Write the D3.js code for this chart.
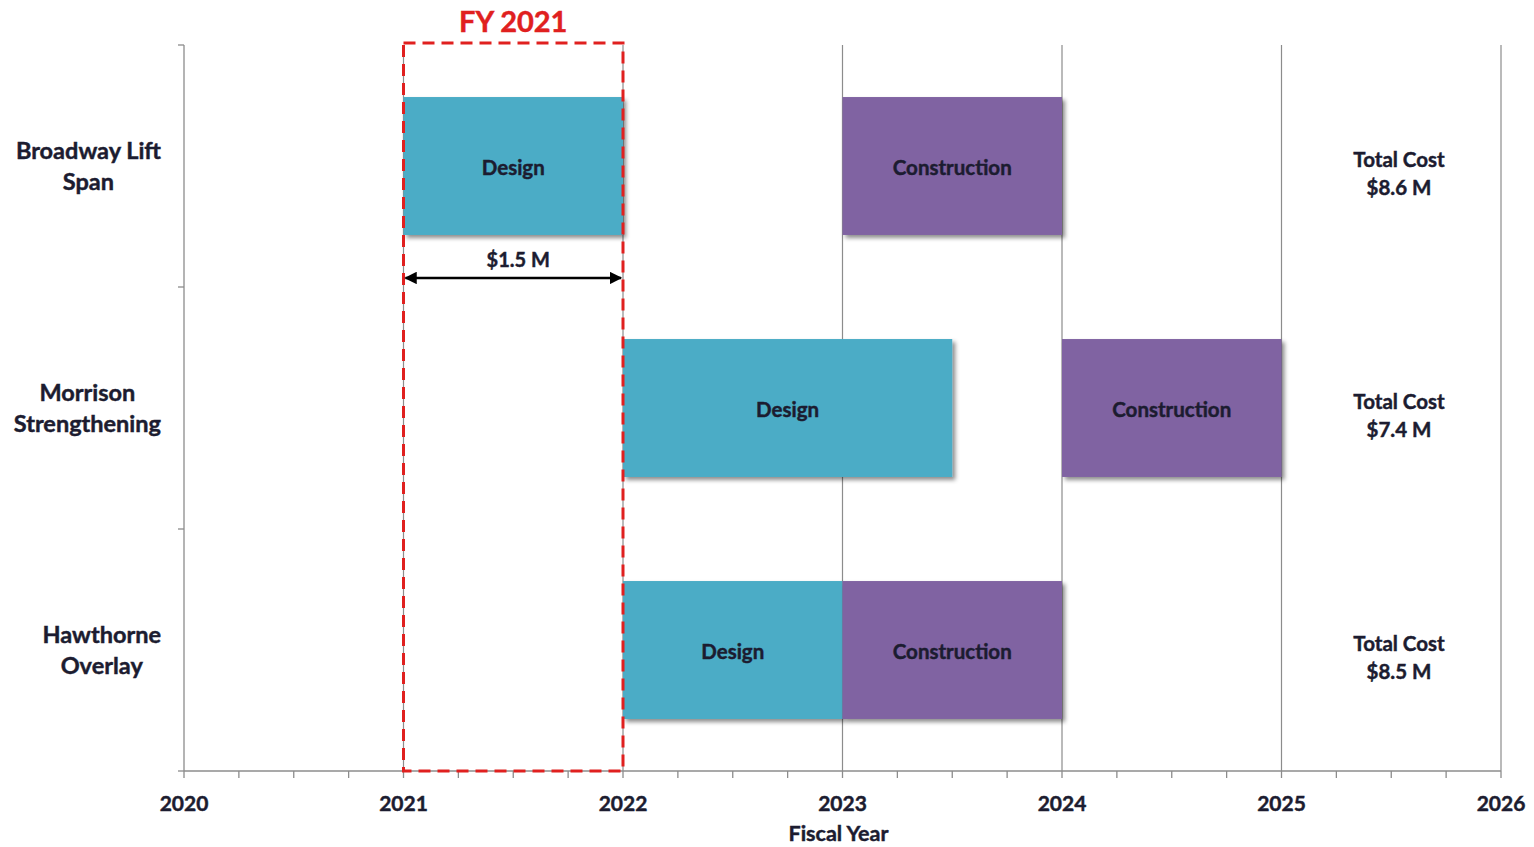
<!DOCTYPE html>
<html>
<head>
<meta charset="utf-8">
<script src="https://cdn.jsdelivr.net/npm/d3@7"></script>
<style>
  html, body { margin: 0; padding: 0; background: #fff; }
  svg { display: block; font-family: Lato, "Open Sans", sans-serif; }
  text { font-weight: 700; stroke-width: 0.45px; }
</style>
</head>
<body>
<svg id="chart" width="1534" height="847"></svg>
<script>
// Project schedule data (fiscal years)
const projects = ["Broadway Lift Span", "Morrison Strengthening", "Hawthorne Overlay"];
const projectLines = [["Broadway Lift", "Span"], ["Morrison", "Strengthening"], ["Hawthorne", "Overlay"]];
const designStart = [2021, 2022, 2022];
const designEnd = [2022, 2023.5, 2023];
const constructionStart = [2023, 2024, 2023];
const constructionEnd = [2024, 2025, 2024];
const totalCost = ["$8.6 M", "$7.4 M", "$8.5 M"];
const yearTicks = [2020, 2021, 2022, 2023, 2024, 2025, 2026];
const highlightYear = [2021, 2022];
const highlightLabel = "FY 2021";
const highlightCost = "$1.5 M";

const svg = d3.select("#chart");
const plotLeft = 184, plotRight = 1501, plotTop = 45, plotBottom = 771;

const x = d3.scaleLinear().domain([2020, 2026]).range([plotLeft, plotRight]);
const y = d3.scaleBand().domain(projects).range([plotTop, plotBottom]).padding(0);
const barH = y.bandwidth() * 0.57;

const textColor = "#1c1c30";
const designColor = "#4bacc6";
const constructionColor = "#8064a2";
const axisColor = "#8c8c8c";
const red = "#e0201f";

// bold text helper: fill and a thin matching stroke
function label(sel, color) {
  return sel.attr("fill", color || textColor).attr("stroke", color || textColor);
}

// drop shadow for bars
const defs = svg.append("defs");
const f = defs.append("filter").attr("id", "shadow")
  .attr("x", "-10%").attr("y", "-10%").attr("width", "130%").attr("height", "130%");
f.append("feDropShadow").attr("dx", 3).attr("dy", 3).attr("stdDeviation", 2.2)
  .attr("flood-color", "#000").attr("flood-opacity", 0.45);

defs.append("marker").attr("id", "arrowhead")
  .attr("viewBox", "0 0 10 10").attr("refX", 9).attr("refY", 5)
  .attr("markerWidth", 5).attr("markerHeight", 5).attr("orient", "auto-start-reverse")
  .append("path").attr("d", "M0,0 L10,5 L0,10 Z").attr("fill", "#000");

// vertical gridlines at each year
svg.append("g").selectAll("line")
  .data(yearTicks.slice(1))
  .join("line")
  .attr("x1", d => x(d)).attr("x2", d => x(d))
  .attr("y1", plotTop).attr("y2", plotBottom)
  .attr("stroke", axisColor).attr("stroke-width", 1.2);

// x axis with quarterly minor ticks
const minor = d3.range(2020, 2026.001, 0.25);
const xAxis = svg.append("g").attr("transform", `translate(0,${plotBottom})`);
xAxis.append("line").attr("x1", plotLeft).attr("x2", plotRight).attr("y1", 0).attr("y2", 0)
  .attr("stroke", axisColor).attr("stroke-width", 1.3);
xAxis.selectAll("line.tick").data(minor).join("line").attr("class", "tick")
  .attr("x1", d => x(d)).attr("x2", d => x(d)).attr("y1", 0).attr("y2", 7)
  .attr("stroke", axisColor).attr("stroke-width", 1.3);
label(xAxis.selectAll("text").data(yearTicks).join("text")
  .attr("x", d => x(d)).attr("y", 40)
  .attr("text-anchor", "middle").attr("font-size", 21)
  .text(d => d));

label(svg.append("text").attr("x", x(2023) - 4).attr("y", 841)
  .attr("text-anchor", "middle").attr("font-size", 21.5)
  .text("Fiscal Year"));

// y axis line and band boundary ticks
svg.append("line").attr("x1", plotLeft).attr("x2", plotLeft).attr("y1", plotTop).attr("y2", plotBottom)
  .attr("stroke", axisColor).attr("stroke-width", 1.3);
const bounds = projects.map(p => y(p)).concat([plotBottom]);
svg.append("g").selectAll("line").data(bounds).join("line")
  .attr("x1", plotLeft - 6).attr("x2", plotLeft).attr("y1", d => d).attr("y2", d => d)
  .attr("stroke", axisColor).attr("stroke-width", 1.3);

// project labels (each block right-aligned, lines centered within it)
const labelRight = 161;
projects.forEach((p, i) => {
  const g = svg.append("g");
  const lines = projectLines[i];
  const cy = y(p) + y.bandwidth() / 2;
  const texts = lines.map((t, j) => label(g.append("text")
    .attr("y", cy + (j - (lines.length - 1) / 2) * 31 + 8)
    .attr("text-anchor", "middle").attr("font-size", 23.5)
    .text(t)));
  const w = d3.max(texts, t => t.node().getComputedTextLength());
  texts.forEach(t => t.attr("x", labelRight - w / 2));
});

// Gantt bars
const segments = [];
projects.forEach((p, i) => {
  segments.push({ p, s: designStart[i], e: designEnd[i], kind: "Design", color: designColor });
  segments.push({ p, s: constructionStart[i], e: constructionEnd[i], kind: "Construction", color: constructionColor });
});

const bars = svg.append("g");
bars.selectAll("rect").data(segments).join("rect")
  .attr("x", d => x(d.s)).attr("width", d => x(d.e) - x(d.s))
  .attr("y", d => y(d.p) + (y.bandwidth() - barH) / 2).attr("height", barH)
  .attr("fill", d => d.color).attr("filter", "url(#shadow)");
label(bars.selectAll("text").data(segments).join("text")
  .attr("x", d => (x(d.s) + x(d.e)) / 2)
  .attr("y", d => y(d.p) + y.bandwidth() / 2 + 9)
  .attr("text-anchor", "middle").attr("font-size", 20.5)
  .text(d => d.kind));

// total cost column
projects.forEach((p, i) => {
  const cy = y(p) + y.bandwidth() / 2;
  const g = svg.append("g").attr("font-size", 20.5).attr("text-anchor", "middle");
  label(g.append("text").attr("x", 1399).attr("y", cy + 1).text("Total Cost"));
  label(g.append("text").attr("x", 1399).attr("y", cy + 29).text(totalCost[i]));
});

// highlighted fiscal year box
svg.append("rect")
  .attr("x", x(highlightYear[0])).attr("width", x(highlightYear[1]) - x(highlightYear[0]))
  .attr("y", plotTop - 2).attr("height", plotBottom - plotTop + 2)
  .attr("fill", "none").attr("stroke", red).attr("stroke-width", 3)
  .attr("stroke-dasharray", "12,7");
label(svg.append("text")
  .attr("x", (x(highlightYear[0]) + x(highlightYear[1])) / 2).attr("y", 32)
  .attr("text-anchor", "middle").attr("font-size", 29)
  .text(highlightLabel), red);

// annual cost arrow
const arrowY = y(projects[0]) + (y.bandwidth() + barH) / 2 + 43;
svg.append("line")
  .attr("x1", x(highlightYear[0]) + 2).attr("x2", x(highlightYear[1]) - 2)
  .attr("y1", arrowY).attr("y2", arrowY)
  .attr("stroke", "#000").attr("stroke-width", 2.5)
  .attr("marker-start", "url(#arrowhead)").attr("marker-end", "url(#arrowhead)");
label(svg.append("text")
  .attr("x", (x(highlightYear[0]) + x(highlightYear[1])) / 2 + 5).attr("y", arrowY - 11)
  .attr("text-anchor", "middle").attr("font-size", 20)
  .text(highlightCost));
</script>
</body>
</html>
